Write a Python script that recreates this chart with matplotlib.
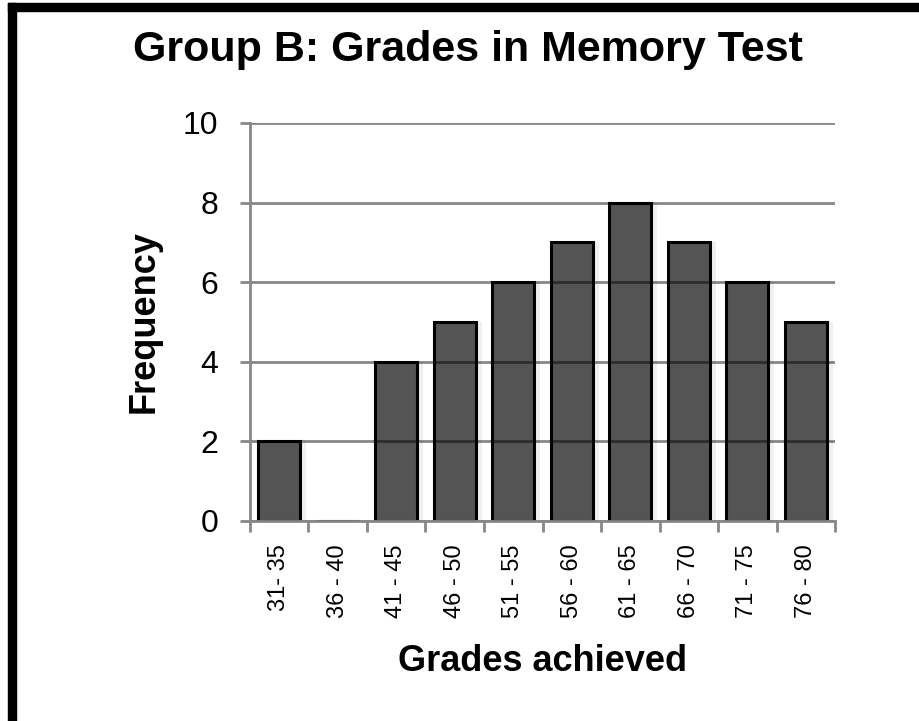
import numpy as np
import matplotlib.pyplot as plt
from matplotlib.patches import Rectangle

plt.rcParams['font.family'] = ['Liberation Sans', 'DejaVu Sans']

# The data
grades = ['31- 35', '36 - 40', '41 - 45', '46 - 50', '51 - 55',
          '56 - 60', '61 - 65', '66 - 70', '71 - 75', '76 - 80']
freq = [2, 0, 4, 5, 6, 7, 8, 7, 6, 5]

grey = '#878787'

fig = plt.figure(figsize=(9.2, 7.21), dpi=100)
ax = fig.add_axes([250 / 920, 200.3 / 721, 585 / 920, 397.7 / 721])

x = np.arange(len(grades))

# soft shadow behind the bars
ax.bar(x + 0.06, freq, width=0.8, color='#000000', alpha=0.06, zorder=1, linewidth=0)
ax.bar(x, freq, width=0.72, color='#000000', alpha=0.65, edgecolor='none', zorder=3)
ax.bar(x, freq, width=0.72, fill=False, edgecolor='black', linewidth=2.2, zorder=4)

ax.set_xlim(-0.5, len(grades) - 0.5)
ax.set_ylim(0, 10)
ax.set_yticks([0, 2, 4, 6, 8, 10])
ax.yaxis.grid(True, color=grey, linewidth=2)
ax.set_axisbelow(True)

ax.set_xticks(x)
ax.set_xticklabels(grades, rotation=90, fontsize=17, va='top')
ax.set_xticks(np.arange(len(grades) + 1) - 0.5, minor=True)
ax.tick_params(axis='x', which='major', length=0, pad=17)
ax.tick_params(axis='x', which='minor', length=8, width=2, color=grey)
ax.tick_params(axis='y', length=7, width=2, color=grey, labelsize=23, pad=16)

for s in ['top', 'right']:
    ax.spines[s].set_visible(False)
for s in ['left', 'bottom']:
    ax.spines[s].set_color(grey)
    ax.spines[s].set_linewidth(2)
    ax.spines[s].set_zorder(5)

ax.set_ylabel('Frequency', fontsize=26, fontweight='bold', va='center')
ax.yaxis.set_label_coords(-0.181, 0.5)
ax.set_xlabel('Grades achieved', fontsize=26, fontweight='bold', va='center')
ax.xaxis.set_label_coords(0.5, -0.355)
fig.text(468 / 920, 1 - 50 / 721, 'Group B: Grades in Memory Test',
         ha='center', va='center', fontsize=31, fontweight='bold')

# black frame on the left and top
fig.patches.append(Rectangle((8 / 920, 0), 8 / 920, 1 - 3 / 721,
                             transform=fig.transFigure, color='black'))
fig.patches.append(Rectangle((8 / 920, 1 - 11 / 721), 1, 8 / 721,
                             transform=fig.transFigure, color='black'))

fig.savefig('out.png', dpi=100)
